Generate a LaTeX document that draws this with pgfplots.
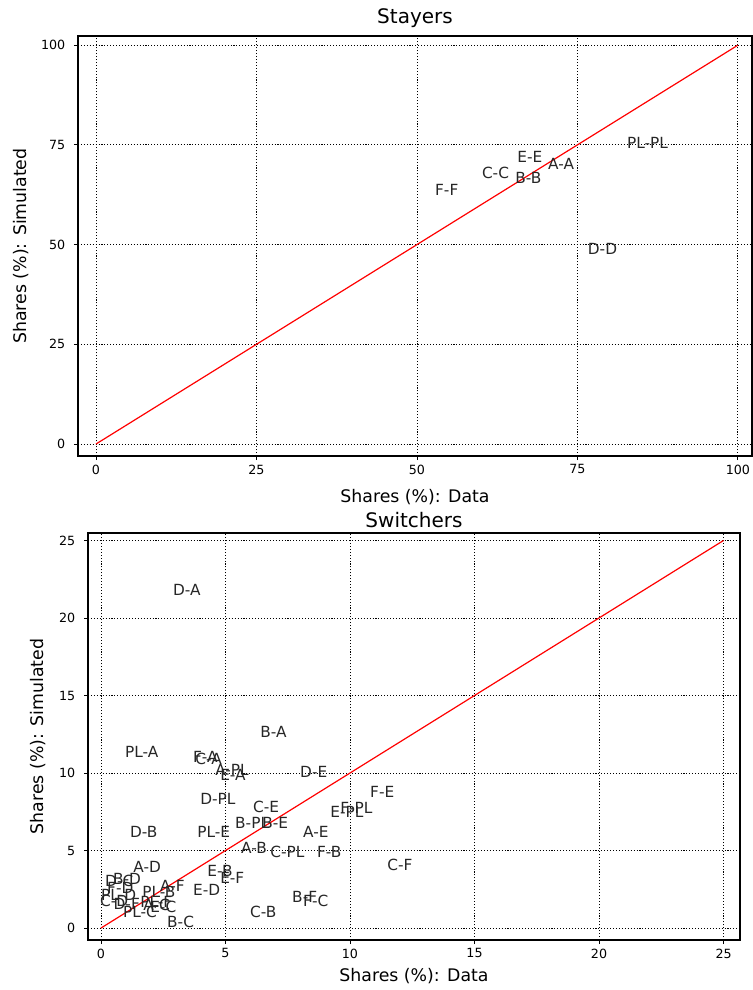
\documentclass[border=0pt]{standalone}
\usepackage{pgfplots}
\usepackage{pgfplotstable}
\pgfplotsset{compat=1.18}
\usepackage{fontspec}
\setmainfont{DejaVu Sans}

\pgfplotstableread{
x y label
82.7 74.2 PL-PL
65.6 70.7 E-E
70.4 68.9 A-A
60.1 66.7 C-C
65.3 65.4 B-B
52.8 62.2 F-F
76.6 47.6 D-D
}\stayers

\pgfplotstableread{
x y label
2.89 21.42 D-A
6.39 12.26 B-A
0.96 11.03 PL-A
3.69 10.71 F-A
3.78 10.52 C-A
4.58 9.87 A-PL
4.78 9.55 E-A
7.99 9.68 D-E
3.98 7.94 D-PL
10.80 8.45 F-E
9.60 7.42 F-PL
9.20 7.10 E-PL
6.10 7.48 C-E
5.38 6.45 B-PL
6.47 6.45 B-E
1.16 5.87 D-B
3.86 5.87 PL-E
8.11 5.81 A-E
5.62 4.84 A-B
6.79 4.58 C-PL
8.67 4.58 F-B
11.49 3.74 C-F
1.29 3.61 A-D
4.26 3.35 E-B
4.78 2.90 E-F
0.48 2.84 B-D
0.16 2.65 D-C
0.24 2.26 F-D
2.37 2.39 A-F
1.65 2.00 PL-B
3.69 2.13 E-D
0.00 1.75 PL-D
-0.04 1.40 C-D
0.50 1.20 D-F
1.57 1.35 PL-F
1.69 1.16 A-C
1.97 1.03 E-C
0.88 0.65 PL-C
2.65 0.06 B-C
5.98 0.65 C-B
7.67 1.68 B-F
8.11 1.42 F-C
}\switchers

\pgfplotstableread{
x y
0 0
100 100
}\diagA

\pgfplotstableread{
x y
0 0
25 25
}\diagB

\pgfplotsset{
  panel/.style={
    scale only axis,
    clip=false,
    axis line style={black, line width=0.8pt},
    grid=major,
    major grid style={black, line width=0.6pt, dash pattern=on 0.8pt off 1.4pt},
    tick align=outside,
    xtick pos=bottom,
    ytick pos=left,
    major tick length=3pt,
    tick style={black, line width=0.6pt},
    tick label style={font=\fontsize{9.5}{11}\selectfont},
    yticklabel style={xshift=-3pt},
    /pgf/number format/assume math mode=true,
    label style={font=\fontsize{13}{15}\selectfont},
    title style={font=\fontsize{15}{18}\selectfont},
  },
  lbl/.style={draw=none, mark=none, nodes near coords, point meta=explicit symbolic,
    nodes near coords style={anchor=base west, inner sep=0pt, font=\fontsize{11.5}{13}\selectfont, text=black!85}},
}

\begin{document}
\begin{tikzpicture}
\useasboundingbox (0,0) rectangle (564.75pt,-742.5pt);

\begin{axis}[panel,
  at={(58.5pt,-342pt)}, anchor=south west,
  width=505.5pt, height=315pt,
  xmin=-2.8, xmax=102.2, ymin=-3.0, ymax=102.3,
  xtick={0,25,50,75,100}, ytick={0,25,50,75,100},
  title={Stayers},
  title style={at={(0.5,1)}, anchor=base, yshift=3.5pt},
  xlabel={Shares (\%): Data},
  xlabel style={at={(0.5,0)}, anchor=base, yshift=-35pt},
  ylabel={Shares (\%): Simulated},
  ylabel style={at={(axis description cs:-0.077,0.5)}, anchor=base},
]
\addplot[red, line width=0.9pt, mark=none] table[x=x,y=y]{\diagA};
\addplot[lbl] table[x=x,y=y,meta=label]{\stayers};
\end{axis}

\begin{axis}[panel,
  at={(66pt,-705pt)}, anchor=south west,
  width=489pt, height=305.25pt,
  xmin=-0.52, xmax=25.66, ymin=-0.77, ymax=25.48,
  xtick={0,5,10,15,20,25}, ytick={0,5,10,15,20,25},
  title={Switchers},
  title style={at={(0.5,1)}, anchor=base, yshift=-1.5pt},
  xlabel={Shares (\%): Data},
  xlabel style={at={(0.5,0)}, anchor=base, yshift=-31pt},
  ylabel={Shares (\%): Simulated},
  ylabel style={at={(axis description cs:-0.069,0.5)}, anchor=base},
]
\addplot[red, line width=0.9pt, mark=none] table[x=x,y=y]{\diagB};
\addplot[lbl] table[x=x,y=y,meta=label]{\switchers};
\end{axis}
\end{tikzpicture}
\end{document}
